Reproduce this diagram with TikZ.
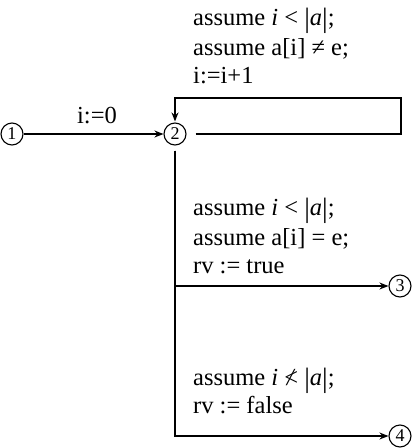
\documentclass[tikz,border=0pt]{standalone}
\usepackage{fontspec}
\setmainfont{Liberation Serif}
\usetikzlibrary{arrows.meta}
\newcommand{\nlt}{\ooalign{<\cr\hidewidth\textit{/}\hidewidth\cr}}
\newcommand{\vb}{\raisebox{-2.5pt}{\fontsize{28}{28}\selectfont|}}
\begin{document}
\begin{tikzpicture}[x=1pt,y=-1pt,
  state/.style={circle,draw,line width=1.1pt,minimum size=22pt,inner sep=0pt,font=\fontsize{18}{18}\selectfont},
  lbl/.style={anchor=base west,inner sep=0pt,font=\fontsize{24.5}{24.5}\selectfont},
  conn/.style={line width=1.7pt,-{Stealth[length=9pt,width=7pt]}}]
\useasboundingbox (0,0) rectangle (412,448);
\node[state] (n1) at (12,134) {1};
\node[state] (n2) at (175,134) {2};
\node[state] (n3) at (400,286) {3};
\node[state] (n4) at (400,436) {4};
% labels
\node[lbl,anchor=base] (l0) at (97,123) {i:=0};
\node[lbl] (t1) at (193,25) {assume \textit{i} < \vb\textit{a}\vb;};
\node[lbl] (t2) at (193,55) {assume a[i] ≠ e;};
\node[lbl] (t3) at (193,83) {i:=i+1};
\node[lbl] (m1) at (193,215) {assume \textit{i} < \vb\textit{a}\vb;};
\node[lbl] (m2) at (193,245) {assume a[i] = e;};
\node[lbl] (m3) at (193,273) {rv := true};
\node[lbl] (b1) at (193,385) {assume \textit{i} \nlt{} \vb\textit{a}\vb;};
\node[lbl] (b2) at (193,413) {rv := false};
% connectors
\coordinate (c1) at (401,98);
\draw[conn] (n1) -- (n2);
\draw[conn,shorten <=9pt,shorten >=1pt] (n2.east) -| (c1) -| (n2.north);
\draw[conn,shorten <=5pt] (n2.south) |- (n3);
\draw[conn,shorten <=5pt] (n2.south) |- (n4);
\end{tikzpicture}
\end{document}
